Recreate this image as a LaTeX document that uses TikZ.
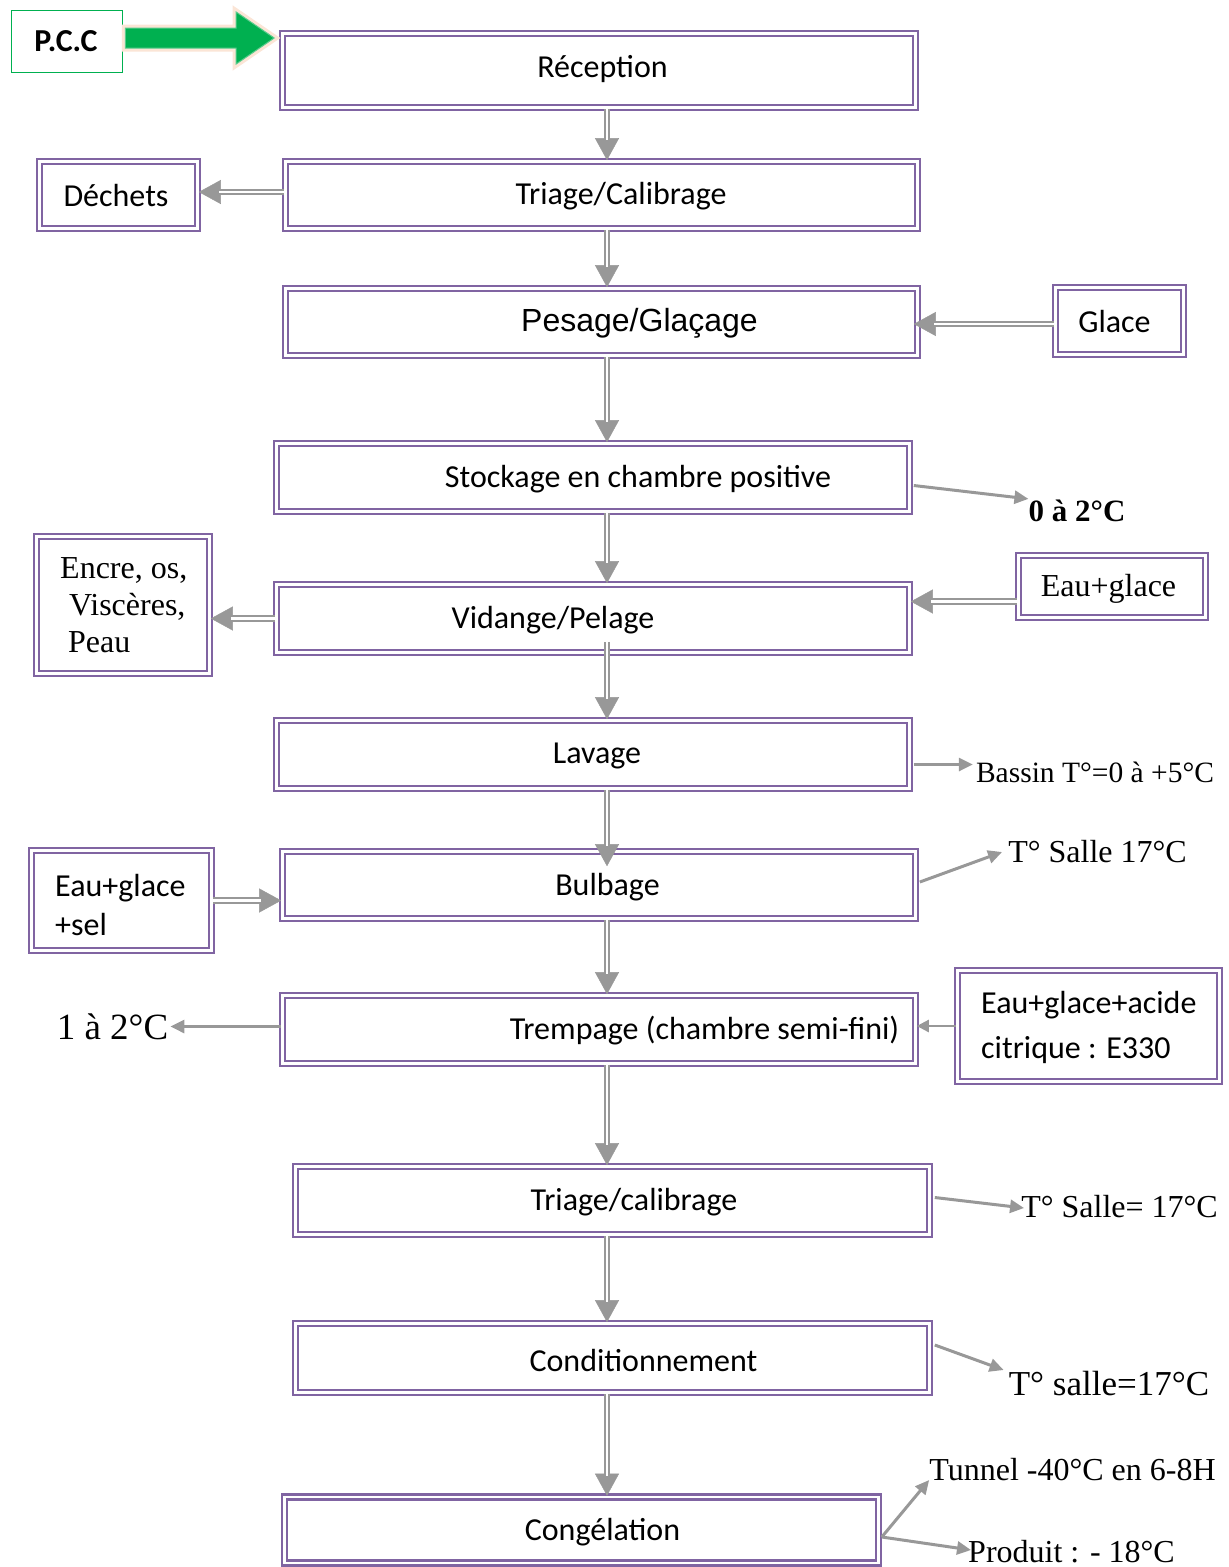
\documentclass[tikz,border=0pt]{standalone}
\usepackage{fontspec}
\setmainfont{Liberation Serif}
\newfontfamily\carl{Carlito}
\newfontfamily\arialf{Liberation Sans}
\usetikzlibrary{arrows.meta,calc}
\definecolor{boxpurple}{HTML}{8064A2}
\definecolor{agray}{RGB}{152,152,152}
\definecolor{pccgreen}{HTML}{00B050}
\definecolor{peach}{HTML}{FBE5D6}
\newcommand\dar[2]{\draw[dtip] #1 -- #2; \draw[dshaft] #1 -- #2;}
\begin{document}
\begin{tikzpicture}[x=1pt,y=-1pt,
  box/.style={draw=boxpurple, line width=2.6pt, double=white, double distance=2.2pt, fill=white, inner sep=0pt},
  pccbox/.style={draw=pccgreen, line width=1.5pt, fill=white, inner sep=0pt},
  btxt/.style={font=\carl\fontsize{32}{38}\selectfont, inner sep=0pt},
  mtxt/.style={btxt, yshift=-2pt},
  stxt/.style={font=\fontsize{32}{38}\selectfont, inner sep=0pt},
  dshaft/.style={draw=agray, line width=2pt, double=white, double distance=2.2pt, shorten >=20pt},
  dtip/.style={draw=agray, line width=0.4pt, -{Triangle[length=22pt,width=24pt]}},
  sarr/.style={draw=agray, line width=3pt, -{Triangle[length=14pt,width=13pt]}},
  pccarrow/.style={fill=pccgreen, draw=pccgreen!65!white, line width=1pt, line join=miter,
     preaction={draw=peach, line width=7pt, line join=miter}}]
\useasboundingbox (0,0) rectangle (1229,1567);

% main boxes
\node[box, minimum width=633, minimum height=74] (rec)  at (599,70.5) {};
\node[box, minimum width=632, minimum height=67] (tri1) at (601.5,195) {};
\node[box, minimum width=632, minimum height=67] (pes)  at (601.5,322) {};
\node[box, minimum width=633, minimum height=68] (sto)  at (593,477.5) {};
\node[box, minimum width=633, minimum height=68] (vid)  at (593,618.5) {};
\node[box, minimum width=633, minimum height=68] (lav)  at (593,754.5) {};
\node[box, minimum width=633, minimum height=67] (bul)  at (599,885) {};
\node[box, minimum width=633, minimum height=68] (tre)  at (599,1029.5) {};
\node[box, minimum width=634, minimum height=68] (tri2) at (612.5,1200.5) {};
\node[box, minimum width=634, minimum height=69] (con)  at (612.5,1358) {};
\node[box, minimum width=594, minimum height=66] (cng)  at (581.5,1530) {};
% side boxes
\node[box, minimum width=158, minimum height=67] (dec) at (118.5,195) {};
\node[box, minimum width=128, minimum height=67] (gla) at (1119.5,321) {};
\node[box, minimum width=173, minimum height=137] (enc) at (123,605) {};
\node[box, minimum width=187, minimum height=62] (eau) at (1112,586.5) {};
\node[box, minimum width=180, minimum height=100] (sel) at (121.5,900.5) {};
\node[box, minimum width=262, minimum height=111] (aci) at (1088.5,1026) {};
\node[pccbox, minimum width=111, minimum height=62] (pcc) at (67,41.5) {};

% PCC block arrow
\coordinate (pccA) at ([yshift=3.5pt]pcc.east);
\coordinate (pccB) at ($(rec.west |- pccA)+(-7,0)$);
\draw[pccarrow] ($(pccA)+(2,-10)$) -- ($(pccB)+(-38,-10)$) -- ($(pccB)+(-38,-26)$) -- (pccB)
  -- ($(pccB)+(-38,26)$) -- ($(pccB)+(-38,10)$) -- ($(pccA)+(2,10)$) -- cycle;

% vertical double arrows
\coordinate (xa) at (607,0);
\dar{(rec.south -| xa)}{(tri1.north -| xa)}
\dar{(tri1.south -| xa)}{(pes.north -| xa)}
\dar{(pes.south -| xa)}{(sto.north -| xa)}
\dar{(sto.south -| xa)}{(vid.north -| xa)}
\dar{($(vid.south -| xa)+(0,-12)$)}{(lav.north -| xa)}
\dar{(lav.south -| xa)}{($(bul.north -| xa)+(0,16)$)}
\dar{(bul.south -| xa)}{(tre.north -| xa)}
\dar{(tre.south -| xa)}{(tri2.north -| xa)}
\dar{(tri2.south -| xa)}{(con.north -| xa)}
\dar{(con.south -| xa)}{(cng.north -| xa)}

% horizontal double arrows
\dar{($(tri1.west)+(0,-3)$)}{($(tri1.west -| dec.east)+(0,-3)$)}
\dar{($(gla.west)+(0,3)$)}{($(gla.west -| pes.east)+(-5,3)$)}
\dar{(vid.west)}{(vid.west -| enc.east)}
\dar{($(eau.west)+(0,15)$)}{($(eau.west -| vid.east)+(0,15)$)}
\dar{(sel.east)}{(sel.east -| bul.west)}

% box texts
\node[mtxt] (rec-t)  at (602.5,67)   {Réception};
\node[mtxt] (tri1-t) at (621,194)    {Triage/Calibrage};
\node[inner sep=0pt, yshift=-3pt, font=\arialf\fontsize{32}{38}\selectfont] (pes-t) at (639.5,320) {Pesage/Glaçage};
\node[mtxt] (sto-t)  at (638,477)    {Stockage en chambre positive};
\node[mtxt] (vid-t)  at (553,618)    {Vidange/Pelage};
\node[mtxt] (lav-t)  at (597,754)    {Lavage};
\node[mtxt] (bul-t)  at (607.5,885)  {Bulbage};
\node[mtxt] (tre-t)  at (704.5,1029) {Trempage (chambre semi-fini)};
\node[mtxt] (tri2-t) at (634,1200)   {Triage/calibrage};
\node[mtxt] (con-t)  at (643.5,1358) {Conditionnement};
\node[mtxt] (cng-t)  at (602.5,1530) {Congélation};
\node[btxt] (dec-t)  at (116,196)    {Déchets};
\node[btxt] (gla-t)  at (1114.5,322) {Glace};
\node[stxt] (eau-t)  at (1108.5,589) {Eau+glace};
\node[stxt, font=\fontsize{32}{37}\selectfont, align=left, anchor=west] (enc-t) at (60,605)
  {Encre, os,\\\hspace*{9pt}Viscères,\\\hspace*{8pt}Peau};
\node[btxt, font=\carl\fontsize{32}{39}\selectfont, align=left, anchor=west] (sel-t) at (55,904.5)
  {Eau+glace\\+sel};
\node[btxt, font=\carl\fontsize{32}{45}\selectfont, align=left, anchor=west] (aci-t) at (981,1027)
  {Eau+glace+acide\\citrique : E330};
\node[btxt, font=\carl\bfseries\fontsize{32}{38}\selectfont] (pcc-t) at (66,41) {P.C.C};

% temperature labels
\node[stxt, font=\bfseries\fontsize{31}{37}\selectfont] (t1) at (1077,511) {0 à 2°C};
\node[stxt, font=\fontsize{29.5}{35}\selectfont] (t2) at (1095,772) {Bassin T°=0 à +5°C};
\node[stxt] (t3) at (1097.5,852) {T° Salle 17°C};
\node[stxt, font=\fontsize{37}{44}\selectfont] (t4) at (112.5,1027) {1 à 2°C};
\node[stxt] (t5) at (1119.5,1207) {T° Salle= 17°C};
\node[stxt, font=\fontsize{35}{42}\selectfont] (t6) at (1109,1384) {T° salle=17°C};
\node[stxt] (t7) at (1072.5,1470) {Tunnel -40°C en 6-8H};
\node[stxt] (t8) at (1071.5,1552) {Produit : - 18°C};

% single arrows
\draw[sarr] ($(sto.east)+(3,8)$) -- ($(t1.north west)+(0,-1)$);
\draw[sarr] ($(lav.east)+(3,10)$) -- ($(lav.east -| t2.west)+(-3,10)$);
\draw[sarr] ($(bul.east)+(3,-3)$) -- ($(t3.west)+(-6,0)$);
\draw[sarr] ($(tre.west)+(0,-3)$) -- ($(tre.west -| t4.east)+(2,-3)$);
\draw[sarr, line width=2.5pt, -{Triangle[length=12pt,width=12pt]}] (aci.west) -- (aci.west -| tre.east);
\draw[sarr] ($(tri2.east)+(4,-3)$) -- ($(t5.west)+(3,1)$);
\draw[sarr] ($(con.east)+(4,-13)$) -- ($(t6.west)+(-5,-14)$);
\draw[sarr] ($(cng.east)+(2,7)$) -- ($(t7.west)+(0,10)$);
\draw[sarr] ($(cng.east)+(2,7)$) -- ($(t8.west)+(3,-2)$);
\end{tikzpicture}
\end{document}
